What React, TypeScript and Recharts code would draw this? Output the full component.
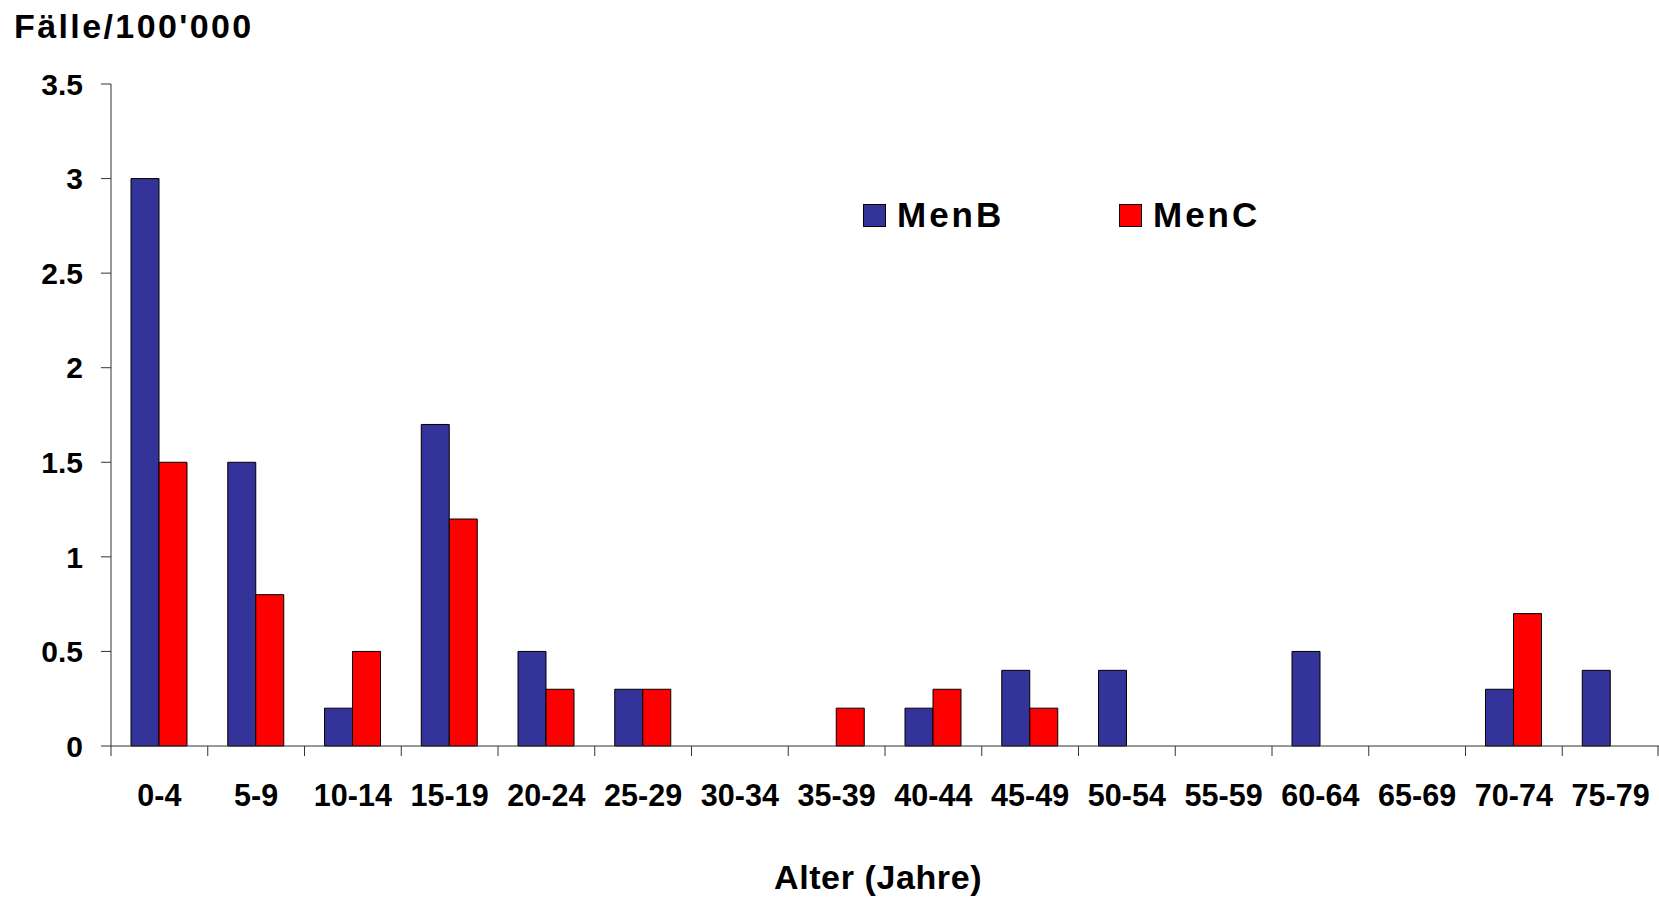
import React from "react";
import { BarChart, Bar, XAxis, YAxis, Legend } from "recharts";

const ageGroups = [
  "0-4", "5-9", "10-14", "15-19", "20-24", "25-29", "30-34", "35-39",
  "40-44", "45-49", "50-54", "55-59", "60-64", "65-69", "70-74", "75-79",
];
const menB = [3, 1.5, 0.2, 1.7, 0.5, 0.3, 0, 0, 0.2, 0.4, 0.4, 0, 0.5, 0, 0.3, 0.4];
const menC = [1.5, 0.8, 0.5, 1.2, 0.3, 0.3, 0, 0.2, 0.3, 0.2, 0, 0, 0, 0, 0.7, 0];
const yTicks = [0, 0.5, 1, 1.5, 2, 2.5, 3, 3.5];

const data = ageGroups.map((g, i) => ({ age: g, MenB: menB[i], MenC: menC[i] }));

const W = 1659;
const H = 901;
const LEFT = 111;
const RIGHT = 0;
const BAND = (W - LEFT - RIGHT) / ageGroups.length;
const FONT = "'Liberation Sans', Arial, sans-serif";
const BLUE = "#333399";
const RED = "#ff0000";
const AXIS = "#333";

function AgeTick({ x, y, payload, index }: any) {
  const left = x - BAND / 2;
  return (
    <g>
      <line x1={left} x2={left} y1={y} y2={y + 10} stroke={AXIS} strokeWidth={1} />
      {index === ageGroups.length - 1 && (
        <line x1={x + BAND / 2 - 1} x2={x + BAND / 2 - 1} y1={y} y2={y + 10} stroke={AXIS} strokeWidth={1} />
      )}
      <text
        x={x}
        y={y + 60}
        textAnchor="middle"
        fontFamily={FONT}
        fontWeight="bold"
        fontSize={30.5}
        fill="#000"
      >
        {payload.value}
      </text>
    </g>
  );
}

function LegendBox() {
  const item = (label: string, color: string, left: number) => (
    <div style={{ position: "absolute", left, top: 0, display: "flex", alignItems: "center" }}>
      <div style={{ width: 23, height: 23, background: color, border: "1px solid #000", boxSizing: "border-box" }} />
      <span
        style={{
          marginLeft: 11,
          fontFamily: FONT,
          fontWeight: "bold",
          fontSize: 35,
          letterSpacing: 3,
          lineHeight: "26px",
          color: "#000",
        }}
      >
        {label}
      </span>
    </div>
  );
  return (
    <div style={{ position: "relative", width: 420, height: 26 }}>
      {item("MenB", BLUE, 0)}
      {item("MenC", RED, 256)}
    </div>
  );
}

export default function App() {
  return (
    <div style={{ position: "absolute", left: 0, top: 0, width: W, height: H, background: "#fff" }}>
      <div
        style={{
          position: "absolute",
          left: 14,
          top: 9,
          fontFamily: FONT,
          fontWeight: "bold",
          fontSize: 34,
          lineHeight: "34px",
          letterSpacing: 2.4,
          color: "#000",
          whiteSpace: "nowrap",
        }}
      >
        Fälle/100'000
      </div>
      <BarChart
        width={W}
        height={H}
        data={data}
        margin={{ top: 84, right: RIGHT, bottom: 55, left: 11 }}
        barGap={0}
        barSize={28}
      >
        <YAxis
          width={100}
          domain={[0, 3.5]}
          ticks={yTicks}
          interval={0}
          stroke={AXIS}
          tickSize={10}
          tickMargin={18}
          tick={{ fontFamily: FONT, fontWeight: "bold", fontSize: 30, fill: "#000" }}
        />
        <XAxis
          dataKey="age"
          height={100}
          interval={0}
          stroke={AXIS}
          tickLine={false}
          tickSize={0}
          tickMargin={0}
          tick={<AgeTick />}
        />
        <Legend
          layout="horizontal"
          verticalAlign="middle"
          align="center"
          content={<LegendBox />}
          wrapperStyle={{ position: "absolute", left: 863, top: 202, width: 420 }}
        />
        <Bar dataKey="MenB" fill={BLUE} stroke="#000" strokeWidth={1} isAnimationActive={false} />
        <Bar dataKey="MenC" fill={RED} stroke="#000" strokeWidth={1} isAnimationActive={false} />
      </BarChart>
      <div
        style={{
          position: "absolute",
          left: 774,
          top: 860,
          fontFamily: FONT,
          fontWeight: "bold",
          fontSize: 34,
          lineHeight: "34px",
          letterSpacing: 0.6,
          color: "#000",
          whiteSpace: "nowrap",
        }}
      >
        Alter (Jahre)
      </div>
    </div>
  );
}
